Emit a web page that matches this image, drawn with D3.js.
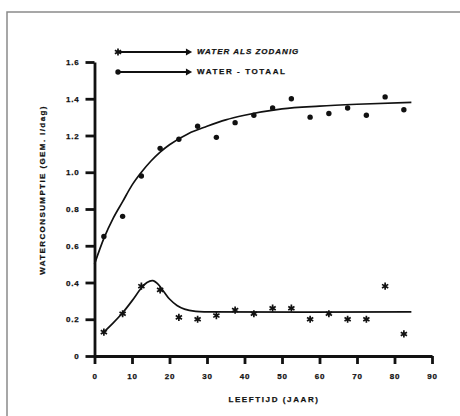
<!DOCTYPE html>
<html>
<head>
<meta charset="utf-8">
<script src="https://cdn.jsdelivr.net/npm/d3@7"></script>
<style>
  body { margin: 0; background: #fff; }
  svg text { font-family: "Liberation Sans", Arial, sans-serif; font-weight: bold; fill: #111; stroke: #111; stroke-width: 0.25px; }
</style>
</head>
<body>
<div id="chart"></div>
<script>
// ages of the measured groups (years)
const ages = [2.5, 7.5, 12.5, 17.5, 22.5, 27.5, 32.5, 37.5, 42.5, 47.5, 52.5, 57.5, 62.5, 67.5, 72.5, 77.5, 82.5];
// water as such (stars)
const waterAls = [0.13, 0.23, 0.38, 0.36, 0.21, 0.20, 0.22, 0.25, 0.23, 0.26, 0.26, 0.20, 0.23, 0.20, 0.20, 0.38, 0.12];
// total water (dots)
const waterTotaal = [0.65, 0.76, 0.98, 1.13, 1.18, 1.25, 1.19, 1.27, 1.31, 1.35, 1.40, 1.30, 1.32, 1.35, 1.31, 1.41, 1.34];

// fitted curves
const curveAlsAge = [2.5, 5, 7.5, 10, 12.5, 14, 15.5, 17, 18.5, 20, 22, 24, 27, 30, 84.5];
const curveAlsVal = [0.13, 0.18, 0.235, 0.30, 0.37, 0.40, 0.41, 0.39, 0.35, 0.31, 0.275, 0.255, 0.243, 0.24, 0.24];
const curveTotAge = [0, 2.5, 5, 7.5, 10, 12.5, 15, 17.5, 20, 25, 30, 35, 40, 50, 60, 70, 84.5];
const curveTotVal = [0.50, 0.64, 0.75, 0.84, 0.93, 1.00, 1.06, 1.11, 1.15, 1.21, 1.25, 1.285, 1.31, 1.345, 1.36, 1.37, 1.38];

const xTicks = [0, 10, 20, 30, 40, 50, 60, 70, 80, 90];
const yTicks = [0, 0.2, 0.4, 0.6, 0.8, 1.0, 1.2, 1.4, 1.6];
const legendLabels = ["WATER ALS ZODANIG", "WATER - TOTAAL"];

const width = 460, height = 416;

const svg = d3.select("#chart")
    .append("svg")
    .attr("width", width)
    .attr("height", height);

// page frame (top and left edge)
svg.append("path")
    .attr("d", "M7,416 V12 H460")
    .attr("fill", "none")
    .attr("stroke", "#8a8a8a")
    .attr("stroke-width", 1.5);

const xScale = d3.scaleLinear().domain([0, 90]).range([94.5, 432]);
const yScale = d3.scaleLinear().domain([0, 1.6]).range([356, 62]);

const xAxis = svg.append("g")
    .attr("transform", "translate(0," + yScale(0) + ")")
    .call(d3.axisBottom(xScale)
        .tickValues(xTicks)
        .tickFormat(d3.format("d"))
        .tickSize(8)
        .tickSizeOuter(0)
        .tickPadding(9));

const yAxis = svg.append("g")
    .attr("transform", "translate(" + xScale(0) + ",0)")
    .call(d3.axisLeft(yScale)
        .tickValues(yTicks)
        .tickFormat(d => d === 0 ? "0" : d3.format(".1f")(d))
        .tickSize(9)
        .tickSizeOuter(0)
        .tickPadding(6));

[xAxis, yAxis].forEach(ax => {
    ax.selectAll("path.domain").attr("stroke", "#111").attr("stroke-width", 2.8);
    ax.selectAll(".tick line").attr("stroke", "#111").attr("stroke-width", 2.8);
    ax.selectAll(".tick text")
        .style("font-size", "8px")
        .style("letter-spacing", "0.8px")
        .attr("fill", "#111");
});

// axis titles
svg.append("text")
    .attr("x", 274)
    .attr("y", 400)
    .attr("text-anchor", "middle")
    .attr("dominant-baseline", "middle")
    .style("font-size", "8px")
    .style("letter-spacing", "1.6px")
    .text("LEEFTIJD (JAAR)");

svg.append("text")
    .attr("transform", "translate(43,190) rotate(-90)")
    .attr("text-anchor", "middle")
    .attr("dominant-baseline", "middle")
    .style("font-size", "8px")
    .style("letter-spacing", "1.4px")
    .text("WATERCONSUMPTIE (GEM. l/dag)");

// curves
const line = d3.line()
    .x(d => xScale(d[0]))
    .y(d => yScale(d[1]))
    .curve(d3.curveMonotoneX);

svg.append("path")
    .datum(curveTotAge.map((a, i) => [a, curveTotVal[i]]))
    .attr("d", line)
    .attr("fill", "none")
    .attr("stroke", "#111")
    .attr("stroke-width", 1.7);

svg.append("path")
    .datum(curveAlsAge.map((a, i) => [a, curveAlsVal[i]]))
    .attr("d", d3.line()
        .x(d => xScale(d[0]))
        .y(d => yScale(d[1]))
        .curve(d3.curveCatmullRom.alpha(0.5)))
    .attr("fill", "none")
    .attr("stroke", "#111")
    .attr("stroke-width", 1.7);

// points
const star = d3.symbol().type(d3.symbolAsterisk).size(36);

svg.append("g")
    .selectAll("circle")
    .data(ages.map((a, i) => [a, waterTotaal[i]]))
    .join("circle")
    .attr("cx", d => xScale(d[0]))
    .attr("cy", d => yScale(d[1]))
    .attr("r", 2.7)
    .attr("fill", "#111");

svg.append("g")
    .selectAll("path")
    .data(ages.map((a, i) => [a, waterAls[i]]))
    .join("path")
    .attr("transform", d => "translate(" + xScale(d[0]) + "," + yScale(d[1]) + ")")
    .attr("d", star)
    .attr("fill", "none")
    .attr("stroke", "#111")
    .attr("stroke-width", 1.7);

// legend
const legend = svg.append("g");
const legendY = [52, 72];
const legendSpacing = ["1.0px", "1.6px"];
legendLabels.forEach((label, i) => {
    const g = legend.append("g").attr("transform", "translate(0," + legendY[i] + ")");
    g.append("line")
        .attr("x1", 118).attr("x2", 186)
        .attr("y1", 0).attr("y2", 0)
        .attr("stroke", "#111")
        .attr("stroke-width", 2.2);
    if (i === 0) {
        g.append("path")
            .attr("transform", "translate(118,0)")
            .attr("d", star)
            .attr("fill", "none")
            .attr("stroke", "#111")
            .attr("stroke-width", 1.7);
    } else {
        g.append("circle").attr("cx", 118).attr("cy", 0).attr("r", 2.7).attr("fill", "#111");
    }
    g.append("path")
        .attr("transform", "translate(188,0) rotate(90)")
        .attr("d", d3.symbol().type(d3.symbolTriangle).size(22))
        .attr("fill", "#111");
    g.append("text")
        .attr("x", 197)
        .attr("y", 0)
        .attr("dominant-baseline", "middle")
        .style("font-size", "8px")
        .style("letter-spacing", legendSpacing[i])
        .style("font-style", i === 0 ? "italic" : "normal")
        .text(label);
});
</script>
</body>
</html>
